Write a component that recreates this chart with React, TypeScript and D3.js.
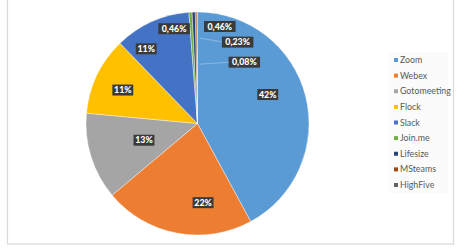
import React from "react";
import * as d3 from "d3";

const categories = ["Zoom", "Webex", "Gotomeeting", "Flock", "Slack", "Join.me", "Lifesize", "MSteams", "HighFive"];
const values = [42.1, 21.8, 12.6, 11.3, 11.0, 0.46, 0.46, 0.23, 0.08];
const colors = ["#5B9BD5", "#ED7D31", "#A5A5A5", "#FFC000", "#4472C4", "#70AD47", "#264478", "#9E480E", "#636363"];
// label positions as fraction of radius (dx, dy) relative to centre
const labelOffsets: [number, number][] = [
  [0.63, -0.26], [0.05, 0.71], [-0.48, 0.15], [-0.67, -0.3], [-0.46, -0.67],
  [-0.21, -0.85], [0.2, -0.87], [0.36, -0.73], [0.42, -0.55],
];

const W = 460, H = 249;
const cx = 197.5, cy = 123.5, R = 111.5;

function fmt(v: number) {
  if (v >= 1) return `${Math.round(v)}%`;
  return `${v.toFixed(2).replace(".", ",")}%`;
}

export default function App() {
  const pie = d3.pie<number>().sort(null).value((d) => d)(values);
  const arc = d3.arc<d3.PieArcDatum<number>>().innerRadius(0).outerRadius(R);
  const legendY = d3.scaleLinear().domain([0, categories.length - 1]).range([60, 185]);
  return (
    <svg width={W} height={H} style={{ position: "absolute", left: 0, top: 0 }}>
      <rect x={0} y={0} width={W} height={H} fill="#fff" />
      <rect x={7.5} y={-2} width={446} height={246} fill="#fff" stroke="#d9d9d9" strokeWidth={1.2} />
      <g transform={`translate(${cx},${cy})`}>
        {pie.map((p, i) => (
          <path key={i} d={arc(p) || ""} fill={colors[i]} stroke="#fff" strokeWidth={0.4} />
        ))}
        {pie.map((p, i) => {
          if (i < 7) return null;
          const [ox, oy] = labelOffsets[i];
          const lx = ox * R - 14, ly = oy * R;
          return <line key={"l" + i} x1={lx} y1={ly} x2={2} y2={ly - 4 + (i - 7) * 6} stroke="#9fc3e6" strokeWidth={0.7} />;
        })}
        {pie.map((p, i) => {
          const [ox, oy] = labelOffsets[i];
          const x = ox * R, y = oy * R;
          const t = fmt(values[i]);
          const w = t.length * 5.3 + 5;
          return (
            <g key={"t" + i} transform={`translate(${x},${y})`}>
              <rect x={-w / 2} y={-5.5} width={w} height={11} fill="#3a3a3a" />
              <text x={0} y={3.2} textAnchor="middle" fontFamily="Lato, 'Open Sans', sans-serif" fontWeight={900} fontSize={8.8} fill="#fff">{t}</text>
            </g>
          );
        })}
      </g>
      <rect x={388} y={52} width={60} height={141} fill="#fbfbfb" />
      {categories.map((c, i) => (
        <g key={c} transform={`translate(394,${legendY(i)})`}>
          <rect x={0} y={-2} width={4} height={4} fill={colors[i]} />
          <text x={6} y={3} fontFamily="Lato, 'Open Sans', sans-serif" fontSize={8.8} fill="#595959">{c}</text>
        </g>
      ))}
    </svg>
  );
}
